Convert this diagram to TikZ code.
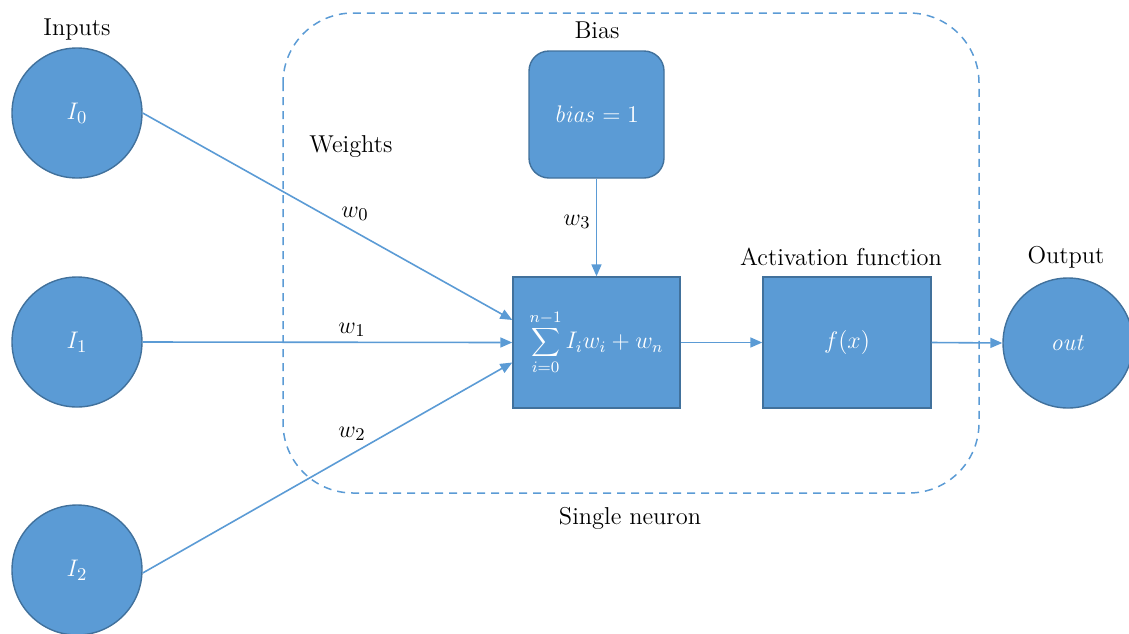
\documentclass[tikz,border=0pt]{standalone}
\usetikzlibrary{arrows.meta}
\definecolor{nfill}{HTML}{5B9BD5}
\definecolor{nedge}{HTML}{41719C}
\tikzset{
  unit/.style={draw=nedge, fill=nfill, line width=0.7pt, text=white, font=\fontsize{12.5}{14}\selectfont},
  neuron/.style={unit, circle, minimum size=65pt, inner sep=0pt},
  block/.style={unit, rectangle, minimum width=84pt, minimum height=65.5pt, inner sep=0pt},
  biasbox/.style={unit, rectangle, rounded corners=10pt, minimum width=67.5pt, minimum height=63.5pt, inner sep=0pt},
  caption/.style={font=\fontsize{12.2}{14}\selectfont, text=black},
  wlabel/.style={font=\fontsize{13}{15}\selectfont, text=black},
  link/.style={draw=nfill, line width=0.8pt, -{Triangle[length=6pt,width=5pt]}},
  boundary/.style={draw=nfill, line width=0.75pt, dash pattern=on 4pt off 3pt, rounded corners=35pt}
}
\begin{document}
\begin{tikzpicture}[x=0.5pt, y=-0.5pt]
  \useasboundingbox (0,0) rectangle (1129,633);
  \clip (0,0) rectangle (1129,633);

  % neuron boundary
  \draw[boundary] (283,13) rectangle (979,493);

  % captions
  \node[caption] (cin)   at (77,30)   {Inputs};
  \node[caption] (cbias) at (597,30)  {Bias};
  \node[caption] (cw)    at (351,147) {Weights};
  \node[caption] (cact)  at (841,257) {Activation function};
  \node[caption] (cout)  at (1066,257) {Output};
  \node[caption] (cneu)  at (630,518) {Single neuron};

  % inputs
  \node[neuron] (I0) at (77,113) {$I_0$};
  \node[neuron] (I1) at (77,342) {$I_1$};
  \node[neuron] (I2) at (77,570) {$I_2$};

  % bias, summation, activation, output
  \node[biasbox] (bias) at (596.5,114.5) {$\mathit{bias}=1$};
  \node[block, minimum width=83.5pt, font=\fontsize{12}{14}\selectfont] (sum) at (596.5,342.5)
    {$\displaystyle\sum_{i=0}^{n-1} I_i w_i + w_n$};
  \node[block] (act) at (847,342.5) {$f(x)$};
  \node[neuron] (out) at (1068,343) {$\mathit{out}$};

  % weighted connections
  \draw[link] (I0.east) -- ([yshift=11.25pt]sum.west);
  \draw[link] (I1.east) -- (sum.west);
  \draw[link] ([yshift=-1.5pt]I2.east) -- ([yshift=-10pt]sum.west);
  \draw[link] (bias.south) -- (sum.north);
  \draw[link] (sum.east) -- (act.west);
  \draw[link] (act.east) -- (out.west);

  % weight labels
  \node[wlabel] (w0) at (355,214) {$w_0$};
  \node[wlabel] (w1) at (352,330) {$w_1$};
  \node[wlabel] (w2) at (352,434) {$w_2$};
  \node[wlabel] (w3) at (577,222) {$w_3$};
\end{tikzpicture}
\end{document}
